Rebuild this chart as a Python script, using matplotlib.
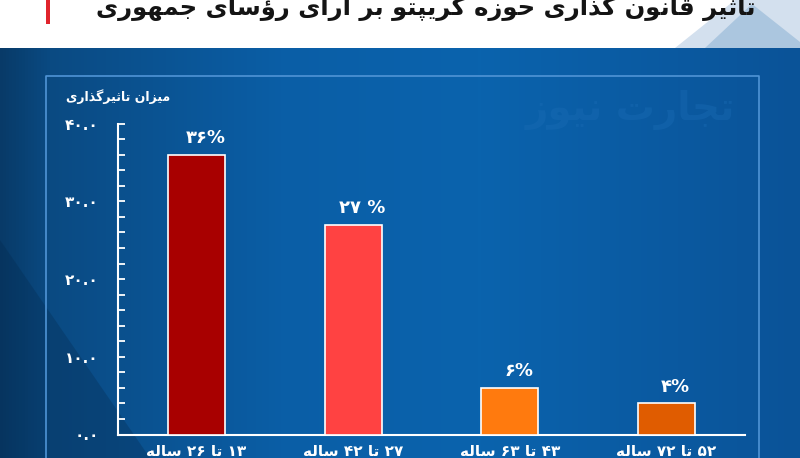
import matplotlib
matplotlib.use("Agg")
import matplotlib.pyplot as plt
import numpy as np
from matplotlib.colors import LinearSegmentedColormap
from matplotlib.patches import Polygon, Rectangle

# داده ها
categories = ["۱۳ تا ۲۶ ساله", "۲۷ تا ۴۲ ساله", "۴۳ تا ۶۳ ساله", "۵۲ تا ۷۲ ساله"]
values = [36, 27, 6, 4]
value_labels = ["۳۶%", "۲۷ %", "۶%", "۴%"]
bar_colors = ["#a80000", "#ff4242", "#ff7a0e", "#e05c00"]
yticks = [0, 10, 20, 30, 40]
title = "تاثیر قانون گذاری حوزه کریپتو بر آرای رؤسای جمهوری"
ylabel = "میزان تاثیرگذاری"
watermark = "تجارت نیوز"

# shaping for persian text (matplotlib has no complex text layout)
FORMS = {
    'ا': ('\uFE8D', '\uFE8E', None, None),
    'آ': ('\uFE81', '\uFE82', None, None),
    'ؤ': ('\uFE85', '\uFE86', None, None),
    'د': ('\uFEA9', '\uFEAA', None, None),
    'ذ': ('\uFEAB', '\uFEAC', None, None),
    'ر': ('\uFEAD', '\uFEAE', None, None),
    'ز': ('\uFEAF', '\uFEB0', None, None),
    'ژ': ('\uFB8A', '\uFB8B', None, None),
    'و': ('\uFEED', '\uFEEE', None, None),
    'ب': ('\uFE8F', '\uFE90', '\uFE91', '\uFE92'),
    'ت': ('\uFE95', '\uFE96', '\uFE97', '\uFE98'),
    'ث': ('\uFE99', '\uFE9A', '\uFE9B', '\uFE9C'),
    'ج': ('\uFE9D', '\uFE9E', '\uFE9F', '\uFEA0'),
    'ح': ('\uFEA1', '\uFEA2', '\uFEA3', '\uFEA4'),
    'س': ('\uFEB1', '\uFEB2', '\uFEB3', '\uFEB4'),
    'ف': ('\uFED1', '\uFED2', '\uFED3', '\uFED4'),
    'ق': ('\uFED5', '\uFED6', '\uFED7', '\uFED8'),
    'ل': ('\uFEDD', '\uFEDE', '\uFEDF', '\uFEE0'),
    'م': ('\uFEE1', '\uFEE2', '\uFEE3', '\uFEE4'),
    'ن': ('\uFEE5', '\uFEE6', '\uFEE7', '\uFEE8'),
    'ه': ('\uFEE9', '\uFEEA', '\uFEEB', '\uFEEC'),
    'پ': ('\uFB56', '\uFB57', '\uFB58', '\uFB59'),
    'ک': ('\uFB8E', '\uFB8F', '\uFB90', '\uFB91'),
    'گ': ('\uFB92', '\uFB93', '\uFB94', '\uFB95'),
    'ی': ('\uFBFC', '\uFBFD', '\uFBFE', '\uFBFF'),
}
DIGITS = "۰۱۲۳۴۵۶۷۸۹"


def shape_word(w):
    out = []
    for i, c in enumerate(w):
        if c not in FORMS:
            out.append(c)
            continue
        prev = w[i - 1] if i > 0 else None
        nxt = w[i + 1] if i + 1 < len(w) else None
        jp = prev in FORMS and FORMS[prev][2] is not None
        jn = FORMS[c][2] is not None and nxt in FORMS
        f = FORMS[c]
        if jp and jn:
            out.append(f[3])
        elif jp:
            out.append(f[1])
        elif jn:
            out.append(f[2])
        else:
            out.append(f[0])
    return ''.join(reversed(out))


def fa(text):
    toks = text.split(' ')
    vis = [t if t[0] in DIGITS else shape_word(t) for t in toks]
    return ' '.join(reversed(vis))


def fa_num(v):
    s = "%.1f" % v
    return ''.join(DIGITS[int(ch)] if ch.isdigit() else ch for ch in s)


W, H = 800, 458
fig = plt.figure(figsize=(8, 4.58), dpi=100)
plt.rcParams['font.family'] = ['DejaVu Sans']

# background
bg = fig.add_axes([0, 0, 1, 1], zorder=-10)
bg.set_xlim(0, W)
bg.set_ylim(H, 0)
bg.axis('off')
cmap = LinearSegmentedColormap.from_list(
    "bg", [(0, "#083a68"), (0.06, "#0a4a82"), (0.35, "#0a5ea6"),
           (0.6, "#0a63ad"), (1, "#0a5398")])
grad = np.linspace(0, 1, 256).reshape(1, -1)
bg.imshow(grad, extent=[0, W, H, 48], cmap=cmap, aspect='auto', zorder=0)
bg.add_patch(Polygon([(0, 240), (150, 458), (0, 458)], closed=True,
                     facecolor="#04294d", alpha=0.3, lw=0, zorder=1))
bg.add_patch(Rectangle((0, 0), W, 48, facecolor="white", lw=0, zorder=2))
bg.add_patch(Polygon([(675, 48), (735, 0), (800, 0), (800, 48)], closed=True,
                     facecolor="#d3e0ee", lw=0, zorder=3))
bg.add_patch(Polygon([(705, 48), (752, 4), (800, 42), (800, 48)], closed=True,
                     facecolor="#abc6df", lw=0, zorder=4))
bg.add_patch(Rectangle((46, 0), 3.5, 24, facecolor="#e0242c", lw=0, zorder=5))
# frame
bg.plot([46, 46, 759, 759], [H, 76, 76, H], color="#4f94d6", lw=1.2, zorder=5)
bg.text(630, 110, fa(watermark), fontsize=28, fontweight='bold',
        color="#1a6cb5", alpha=0.4, ha='center', va='center', zorder=5)
bg.text(755, 7, fa(title), fontsize=17.5, fontweight='bold', color="#141414",
        ha='right', va='center', zorder=6)
bg.text(118, 97, fa(ylabel), fontsize=9, fontweight='bold', color="white",
        ha='center', va='center', zorder=6)

# main chart
ax = fig.add_axes([118 / W, (H - 434.5) / H, 627 / W, 310.8 / H])
ax.patch.set_alpha(0)
x = np.arange(len(values))
ax.bar(x, values, width=0.365, color=bar_colors, edgecolor="white",
       linewidth=1.2, zorder=3)
for xi, v, lab in zip(x, values, value_labels):
    ax.annotate(lab, (xi, v), xytext=(6.5, 12), textcoords='offset points',
                ha='center', va='center', color='white', fontsize=13,
                fontweight='bold')

ax.set_xlim(-0.5, 3.5)
ax.set_ylim(0, 40)
ax.set_yticks(yticks)
ax.set_yticklabels([fa_num(t) for t in yticks])
ax.set_yticks(np.arange(0, 41, 2), minor=True)
ax.tick_params(axis='y', which='both', direction='in', length=5, width=1.3,
               colors='white', pad=14, labelsize=11)
ax.set_xticks(x)
ax.set_xticklabels([fa(c) for c in categories], fontweight='bold')
ax.tick_params(axis='x', length=0, pad=7, labelsize=11, colors='white')
for lab in ax.get_yticklabels():
    lab.set_fontweight('bold')
for s in ['top', 'right']:
    ax.spines[s].set_visible(False)
for s in ['left', 'bottom']:
    ax.spines[s].set_color('white')
    ax.spines[s].set_linewidth(1.5)

fig.savefig("out.png", dpi=100)
